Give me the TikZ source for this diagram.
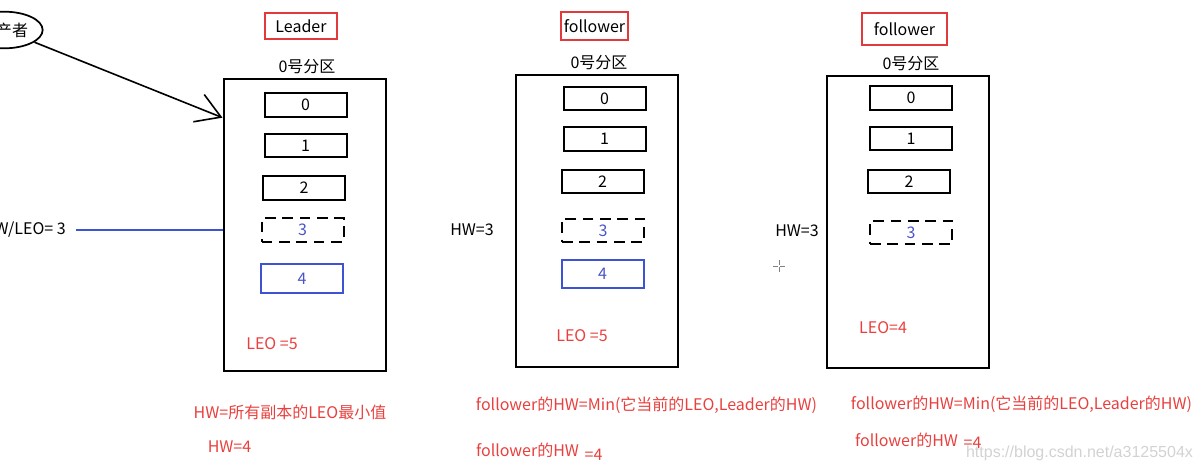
\documentclass[tikz,border=0pt]{standalone}
\usepackage{fontspec}
\setmainfont{Noto Sans CJK SC}
\newfontfamily\wmfont{Liberation Sans}
\usetikzlibrary{arrows.meta,shapes.geometric}
\definecolor{txtred}{RGB}{232,64,62}
\definecolor{boxred}{RGB}{226,58,58}
\definecolor{txtblue}{RGB}{74,84,200}
\definecolor{lineblue}{RGB}{62,82,212}
\definecolor{wmgray}{RGB}{210,210,210}
\tikzset{
  every node/.style={font=\fontsize{12}{14}\selectfont, inner sep=0pt},
  rolebox/.style={draw=boxred, line width=1.1pt, minimum width=#1, inner sep=0pt},
  part/.style={draw=black, line width=1.5pt, minimum width=121.5pt, minimum height=219pt},
  seg/.style={draw=black, line width=1.5pt, minimum width=61.5pt, minimum height=17.5pt},
  segdash/.style={seg, dash pattern=on 8pt off 5pt, text=txtblue},
  segblue/.style={seg, draw=lineblue, text=txtblue, minimum height=21.5pt},
  redtxt/.style={text=txtred},
}
\begin{document}
\begin{tikzpicture}[x=0.75pt,y=-0.75pt]
\useasboundingbox (0,0) rectangle (1202,471);

% producer
\node[ellipse, draw, line width=1.3pt, minimum width=58pt, minimum height=27.5pt] (prod) at (4,30) {生产者};

% ---------- Leader ----------
\node[rolebox=54pt, minimum height=19.5pt] (role0) at (301,26) {Leader};
\node (pl0) at (307,67) {0号分区};
\node[part] (big0) at (304.5,225) {};
\node[seg] (b00) at (305.5,105) {0};
\node[seg] (b01) at (305.5,145.5) {1};
\node[seg] (b02) at (304,188) {2};
\node[segdash] (b03) at (302.5,230) {3};
\node[segblue] (b04) at (302,278.5) {4};
\node[redtxt] (leo0) at (272,344) {LEO =5};
\node[anchor=east, inner xsep=7.5pt] (hwl) at (76,230) {HW/LEO= 3};
\draw[lineblue, line width=1.1pt] (hwl.east) -- (hwl.east -| big0.west);
\draw[line width=1.2pt, -{Straight Barb[length=18pt,width=22pt]}] (prod) -- (b00.south -| big0.west);

% ---------- follower 1 ----------
\node[rolebox=50pt, minimum height=21pt] (role1) at (594.5,26) {follower};
\node (pl1) at (599,63) {0号分区};
\node[part] (big1) at (597,221) {};
\node[seg] (b10) at (604.5,98.5) {0};
\node[seg] (b11) at (604.5,139) {1};
\node[seg] (b12) at (602.5,181.5) {2};
\node[segdash] (b13) at (603,230.5) {3};
\node[segblue] (b14) at (602.5,274) {4};
\node[redtxt] (leo1) at (582,336) {LEO =5};
\node (hw1) at (472,230) {HW=3};

% ---------- follower 2 ----------
\node[rolebox=64pt, minimum height=24pt] (role2) at (904.5,29) {follower};
\node (pl2) at (911,64) {0号分区};
\node[part] (big2) at (908,222) {};
\node[seg] (b20) at (911,98) {0};
\node[seg] (b21) at (911,138.5) {1};
\node[seg] (b22) at (909,181.5) {2};
\node[segdash] (b23) at (911,232.5) {3};
\node[redtxt] (leo2) at (883,328) {LEO=4};
\node (hw2) at (797,231) {HW=3};

% cursor crosshair
\coordinate (cur) at (779,266);
\draw[gray, line width=0.6pt] ([xshift=-4.5pt]cur) -- ([xshift=-1pt]cur) ([xshift=1pt]cur) -- ([xshift=4.5pt]cur)
  ([yshift=-4.5pt]cur) -- ([yshift=-1pt]cur) ([yshift=1pt]cur) -- ([yshift=4.5pt]cur);

% ---------- bottom notes ----------
\node[redtxt] (n0a) at (290,412) {HW=所有副本的LEO最小值};
\node[redtxt] (n0b) at (229.5,447) {HW=4};
\node[redtxt] (n1a) at (646.5,405) {follower的HW=Min(它当前的LEO,Leader的HW)};
\node[redtxt] (n1b) at (527.5,450) {follower的HW};
\node[redtxt] (n1c) at (593.5,455) {=4};
\node[redtxt] (n2a) at (1021.5,404) {follower的HW=Min(它当前的LEO,Leader的HW)};
\node[redtxt] (n2b) at (906.5,440) {follower的HW};
\node[redtxt] (n2c) at (972.5,443) {=4};

% watermark
\node[text=wmgray, font=\wmfont\fontsize{12}{14}\selectfont] (wm) at (1079.5,453) {https://blog.csdn.net/a3125504x};
\end{tikzpicture}
\end{document}
